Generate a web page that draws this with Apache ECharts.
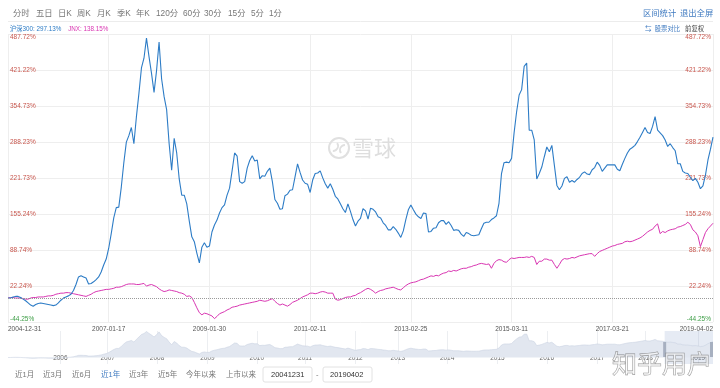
<!DOCTYPE html>
<html><head><meta charset="utf-8">
<script src="https://cdn.jsdelivr.net/npm/echarts@6/dist/echarts.min.js"></script>
<style>html,body{margin:0;padding:0;background:#fff}#c{width:720px;height:388px}</style>
</head><body><div id="c"></div>
<script>
// ---------- data ----------
const dateLabels = ['2004-12-31','2007-01-17','2009-01-30','2011-02-11','2013-02-25','2015-03-11','2017-03-21','2019-04-02'];
const PER = 40; // samples between two date labels
const yTickValues = [-44.25, 22.24, 88.74, 155.24, 221.73, 288.23, 354.73, 421.22, 487.72];
const hs300 = [
0,0,2,3,3,1,-2,-5,-9,-13,
-15,-12,-10,-9,-10,-11,-12,-13,-14,-13,
-9,-4,0,2,4,7,14,25,39,41,
39,37,26,27,30,34,39,48,61,72,
92,119,148,167,168,205,250,288,300,315,
285,335,378,425,443,480,446,415,380,420,
473,405,372,348,285,236,295,268,220,190,
190,174,142,113,104,83,65,94,102,94,
96,122,135,144,157,167,172,190,203,235,
268,262,215,212,215,240,254,263,253,255,
220,226,225,234,240,215,182,175,164,165,
189,192,199,200,224,248,232,218,212,210,
195,218,230,231,235,222,211,203,211,201,
188,183,174,165,158,174,160,145,133,142,
147,165,161,146,166,164,159,150,148,139,
134,126,126,132,127,120,112,124,145,163,
172,163,155,150,147,157,156,122,123,129,
130,139,143,143,136,141,134,125,126,125,
118,114,121,119,116,115,116,117,128,138,
140,140,145,148,152,175,230,250,251,250,
258,305,344,375,385,428,434,310,310,292,
220,230,242,261,279,270,282,245,208,200,
207,221,224,214,217,214,219,223,230,233,
229,228,237,241,251,245,234,240,246,246,
246,246,238,235,247,258,268,275,278,282,
289,297,306,315,306,304,317,335,310,305,
300,292,280,285,278,272,248,248,234,231,
230,223,217,221,214,202,207,227,255,275,
297.13];
const jnx = [
0,1,1,0,0,0,-1,-2,-2,0,
1,1,2,2,2,3,4,4,5,7,
8,9,9,10,10,9,8,7,6,5,
4,3,5,7,10,12,13,14,15,16,
16,17,18,20,20,21,23,25,26,26,
26,25,25,26,27,22,24,25,23,21,
17,14,12,13,15,14,13,12,10,9,
7,3,4,1,-8,-18,-27,-31,-28,-29,
-31,-33,-38,-34,-29,-27,-25,-22,-20,-17,
-16,-15,-13,-12,-11,-10,-9,-8,-7,-6,
-4,-5,-6,-5,-3,-1,-6,-10,-13,-11,
-13,-15,-12,-8,-6,-4,-1,2,4,6,
9,9,8,9,11,12,11,9,9,9,
-2,-4,-3,-1,1,2,2,4,5,8,
10,13,16,18,16,13,9,12,14,15,
17,18,19,20,18,16,15,19,23,26,
28,29,30,32,34,35,37,39,41,40,
42,41,44,46,47,50,49,51,50,52,
54,55,55,57,58,60,61,63,64,63,
62,63,55,64,69,71,70,67,66,71,
74,73,74,75,75,75,76,75,77,75,
62,68,68,72,72,70,70,62,55,62,
70,73,72,73,75,74,76,78,79,80,
81,82,82,77,82,86,88,90,92,94,
96,97,99,100,101,104,105,104,105,107,
109,111,114,118,122,125,127,133,137,119,
123,121,124,126,127,128,131,132,134,136,
140,136,126,122,115,95,108,121,128,133,
138.15];
const navYears = ['2006','2007','2008','2009','2010','2011','2012','2013','2014','2015','2016','2017','2018','2019'];
const navYearPos = [0.52,0.99,1.48,1.98,2.47,2.95,3.45,3.87,4.36,4.86,5.35,5.85,6.33,6.85];
const navSelection = [6.52, 7];
const periodTabs = ['分时','五日','日K','周K','月K','季K','年K','120分','60分','30分','15分','5分','1分'];
const rangeButtons = ['近1月','近3月','近6月','近1年','近3年','近5年','今年以来','上市以来'];
const rangeInputs = ['20041231','20190402'];

// ---------- chart ----------
const FONT = '"Liberation Sans","Noto Sans CJK SC",sans-serif';
const RED = '#c8574e', GREEN = '#3e9e47', BLUE = '#2d7cc6', MAG = '#d936b2', LINK = '#3f7ac0';
const toPairs = arr => arr.map((v, i) => [i / PER, v]);
const blueData = toPairs(hs300), magData = toPairs(jnx);
const yFmt = v => {
  const k = yTickValues.findIndex(t => Math.abs(t - v) < 1e-6);
  const s = (k >= 0 ? yTickValues[k] : v).toFixed(2) + '%';
  return k === 0 ? '{g|' + s + '}' : s;
};
function txt(id, x, y, s, color, size, align) {
  return {type:'text', id, x, y, silent:true, z:10,
    style:{text:s, fill:color, font:size + 'px ' + FONT, textAlign:align || 'left', textVerticalAlign:'middle'}};
}
const tabX = [13,36,58,77,97,117,136,156,183,204,228,251,269];
const btnX = [15,43,72,101,129,158,186,226];
const graphics = [];
periodTabs.forEach((t, i) => graphics.push(txt('tab' + i, tabX[i], 14, t, '#777', 8.3)));
graphics.push(txt('stat', 643, 14, '区间统计', LINK, 8.3));
graphics.push(txt('exit', 680, 14, '退出全屏', LINK, 8.3));
graphics.push({type:'line', id:'sep', silent:true, shape:{x1:8, y1:21.5, x2:713, y2:21.5}, style:{stroke:'#ececec', lineWidth:1}});
graphics.push({type:'text', id:'lg', x:10, y:29, silent:true, z:10, style:{
  text:'{b|沪深300: ' + hs300[hs300.length-1].toFixed(2) + '%}  {m|JNX: ' + jnx[jnx.length-1].toFixed(2) + '%}',
  textVerticalAlign:'middle',
  rich:{b:{fill:BLUE, fontSize:6.3, fontFamily:FONT}, m:{fill:MAG, fontSize:6.3, fontFamily:FONT}}}});
graphics.push(txt('cmpi', 645, 29, '⇆', LINK, 6.5));
graphics.push(txt('cmp', 680, 29, '股票对比', LINK, 6.3, 'right'));
graphics.push(txt('fq', 704, 29, '前复权', '#444', 6.3, 'right'));
// 雪球 watermark
graphics.push({type:'circle', id:'wmc', silent:true, z:1, shape:{cx:339, cy:148, r:10}, style:{fill:'none', stroke:'#e0e0e0', lineWidth:2}});
graphics.push({type:'arc', id:'wma1', silent:true, z:1, shape:{cx:333, cy:146, r:5, startAngle:-0.6, endAngle:1.6}, style:{fill:'none', stroke:'#e0e0e0', lineWidth:2}});
graphics.push({type:'arc', id:'wma2', silent:true, z:1, shape:{cx:345, cy:150, r:5, startAngle:2.5, endAngle:4.7}, style:{fill:'none', stroke:'#e0e0e0', lineWidth:2}});
graphics.push({type:'text', id:'wmt', x:352, y:148, silent:true, z:1, style:{text:'雪球', fill:'#dedede', font:'22px "Noto Sans CJK SC"', textVerticalAlign:'middle'}});
// bottom range bar
rangeButtons.forEach((t, i) => graphics.push(txt('rb' + i, btnX[i], 375, t, i === 3 ? LINK : '#777', 7.5)));
graphics.push({type:'rect', id:'in1', silent:true, shape:{x:263, y:367, width:49, height:15, r:2}, style:{fill:'#fff', stroke:'#e2e2e2'}});
graphics.push({type:'rect', id:'in2', silent:true, shape:{x:323, y:367, width:49, height:15, r:2}, style:{fill:'#fff', stroke:'#e2e2e2'}});
graphics.push(txt('it1', 271, 375, rangeInputs[0], '#333', 7.5));
graphics.push(txt('dash', 316, 375, '-', '#777', 7.5));
graphics.push(txt('it2', 330, 375, rangeInputs[1], '#333', 7.5));
// zhihu watermark
graphics.push({type:'text', id:'zh', x:612, y:363, silent:true, z:20, style:{text:'知乎用户', font:'25px "Noto Sans CJK SC"', fill:'rgba(255,255,255,0.55)', stroke:'rgba(110,110,110,0.75)', lineWidth:0.8, textVerticalAlign:'middle'}});

const axisFont = {fontSize:6.5, fontFamily:FONT};
const chart = echarts.init(document.getElementById('c'), null, {renderer:'canvas'});
chart.setOption({
  animation:false,
  backgroundColor:'#fff',
  grid:[{left:8, right:7, top:34, bottom:66}, {left:8, right:7, top:331, height:33}],
  xAxis:[
    {type:'value', gridIndex:0, min:0, max:dateLabels.length - 1, interval:1,
     axisLine:{show:false}, axisTick:{show:false},
     splitLine:{show:true, lineStyle:{color:'#eeeeee'}},
     axisLabel:Object.assign({color:'#555', margin:4, formatter:v => dateLabels[Math.round(v)] || '',
       alignMinLabel:'left', alignMaxLabel:'right', showMinLabel:true, showMaxLabel:true}, axisFont)},
    {type:'value', gridIndex:1, min:0, max:dateLabels.length - 1,
     axisLine:{show:false}, axisTick:{show:false, customValues:navYearPos},
     splitLine:{show:true, lineStyle:{color:'rgba(200,205,215,0.35)'}},
     axisLabel:Object.assign({inside:true, color:'#666', margin:3, customValues:navYearPos,
       formatter:v => { const k = navYearPos.findIndex(p => Math.abs(p - v) < 1e-6); return k >= 0 ? navYears[k] : ''; }}, axisFont)}
  ],
  yAxis:[
    {type:'value', gridIndex:0, position:'left', min:yTickValues[0], max:yTickValues[yTickValues.length-1],
     axisLine:{show:false}, axisTick:{show:false, customValues:yTickValues},
     splitLine:{show:true, lineStyle:{color:'#eeeeee'}},
     axisLabel:Object.assign({inside:true, margin:2, color:RED, customValues:yTickValues, formatter:yFmt,
       verticalAlignMinLabel:'bottom', verticalAlignMaxLabel:'top', rich:{g:{color:GREEN, fontSize:6.5, fontFamily:FONT}}}, axisFont)},
    {type:'value', gridIndex:0, position:'right', min:yTickValues[0], max:yTickValues[yTickValues.length-1],
     axisLine:{show:false}, axisTick:{show:false, customValues:yTickValues},
     splitLine:{show:false},
     axisLabel:Object.assign({inside:true, margin:2, color:RED, customValues:yTickValues, formatter:yFmt,
       verticalAlignMinLabel:'bottom', verticalAlignMaxLabel:'top', rich:{g:{color:GREEN, fontSize:6.5, fontFamily:FONT}}}, axisFont)},
    {type:'value', gridIndex:1, min:-120, max:490, show:false}
  ],
  series:[
    {name:'JNX', type:'line', xAxisIndex:0, yAxisIndex:0, data:magData, showSymbol:false, z:3,
     lineStyle:{color:MAG, width:1}, itemStyle:{color:MAG}},
    {name:'沪深300', type:'line', xAxisIndex:0, yAxisIndex:0, data:blueData, showSymbol:false, z:4,
     lineStyle:{color:BLUE, width:1.1}, itemStyle:{color:BLUE},
     markLine:{silent:true, symbol:'none', label:{show:false}, lineStyle:{color:'#9a9a9a', type:'dotted', width:1},
       data:[{yAxis:0}]}},
    {name:'nav', type:'line', xAxisIndex:1, yAxisIndex:2, data:blueData, showSymbol:false, z:1,
     lineStyle:{color:'#cbd3e2', width:0.6}, areaStyle:{color:'#e2e7f0', opacity:1},
     markArea:{silent:true, itemStyle:{color:'rgba(140,165,205,0.22)'},
       data:[[{xAxis:navSelection[0]}, {xAxis:navSelection[1]}]]}}
  ],
  graphic:graphics
});
// slider handles at the selection edges (positions from the nav axis)
const hx0 = chart.convertToPixel({xAxisIndex:1}, navSelection[0]);
const hx1 = chart.convertToPixel({xAxisIndex:1}, navSelection[1]);
chart.setOption({graphic:[
  {type:'rect', id:'h0', silent:true, z:12, shape:{x:hx0 - 1.5, y:342, width:3, height:15}, style:{fill:'#a7b0c0'}},
  {type:'rect', id:'h1', silent:true, z:12, shape:{x:hx1 - 3, y:342, width:3, height:15}, style:{fill:'#a7b0c0'}}
]});
</script></body></html>
